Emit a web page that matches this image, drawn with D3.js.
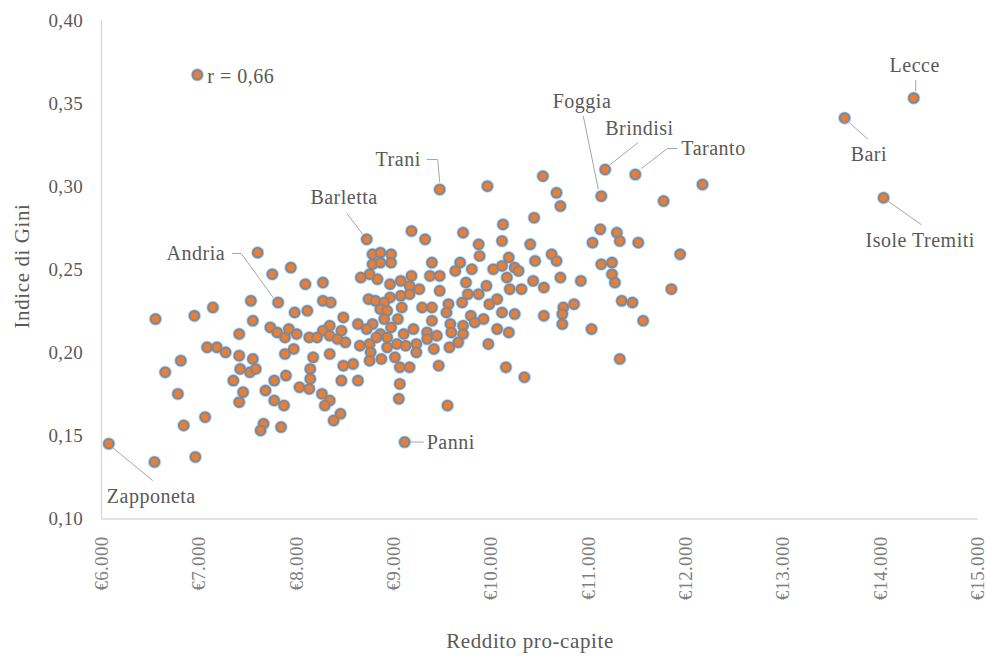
<!DOCTYPE html>
<html>
<head>
<meta charset="utf-8">
<script src="https://cdn.jsdelivr.net/npm/d3@7"></script>
<style>
  html, body { margin: 0; padding: 0; background: #ffffff; }
  svg { display: block; }
</style>
</head>
<body>
<svg id="chart" width="987" height="660"></svg>
<script>
// ---------------- DATA ----------------
// Unlabelled municipalities: income per capita (€) and Gini index
const income = [
  7610,7950,7760,7540,7990,7150,6960,6560,7560,7420,7740,7810,7890,7930,7980,7890,7090,7190,7280,7420,
  7560,6820,6660,7430,7530,7590,7360,7780,7900,7460,7690,6790,7420,7780,7880,7070,6850,7670,7640,7850,
  6550,6970,
  9190,9330,8790,8870,8980,8790,8870,8980,9400,8670,8760,8840,8970,9080,9190,9170,9270,9380,8100,8280,
  8750,8820,8970,8910,9080,9170,8280,8360,8120,8870,8940,9090,9300,9400,8490,9400,8350,8280,8470,8640,
  8790,8910,9050,8980,8870,8730,9110,9210,9350,9450,8010,8140,8220,8350,8430,8510,8660,8760,8830,8940,
  8940,9040,9130,9240,9350,8350,8770,8760,8880,9020,9240,9420,9470,8180,8150,8150,8040,8140,8490,8590,
  8470,8640,9070,9170,9070,9060,8270,8350,8300,8460,8390,
  9970,10540,10680,10720,10450,10130,9720,9880,10120,9890,10410,10630,10680,10460,10190,9690,9640,9810,10030,10120,
  10250,10290,10170,9480,9750,9960,10200,10320,10440,10550,10720,10930,9480,9770,9880,9710,9990,10070,9570,9550,
  10120,10250,9800,9930,9840,9590,9720,9720,9600,9670,9580,10070,10190,9980,10550,10750,10860,10740,10740,10160,
  10350,9560,
  12180,11780,11130,11300,11330,11050,11520,11950,11140,11250,11250,11280,11860,11350,11460,11570,11040,11330
];
const gini = [
  0.260,0.251,0.247,0.231,0.224,0.227,0.222,0.220,0.219,0.211,0.215,0.212,0.209,0.214,0.202,0.199,0.203,0.203,0.200,0.198,
  0.196,0.195,0.188,0.190,0.188,0.190,0.183,0.183,0.186,0.176,0.177,0.175,0.170,0.171,0.168,0.161,0.156,0.157,0.153,0.155,
  0.134,0.137,
  0.273,0.268,0.259,0.260,0.259,0.253,0.254,0.254,0.254,0.245,0.247,0.244,0.241,0.243,0.246,0.240,0.238,0.246,0.241,0.242,
  0.232,0.231,0.233,0.230,0.234,0.235,0.231,0.230,0.225,0.226,0.225,0.227,0.227,0.227,0.221,0.219,0.216,0.213,0.213,0.217,
  0.217,0.220,0.220,0.215,0.211,0.214,0.211,0.214,0.212,0.210,0.211,0.209,0.209,0.210,0.208,0.206,0.204,0.205,0.209,0.209,
  0.203,0.205,0.204,0.205,0.208,0.199,0.200,0.195,0.196,0.197,0.200,0.202,0.192,0.197,0.190,0.184,0.179,0.178,0.192,0.193,
  0.183,0.183,0.191,0.191,0.181,0.172,0.175,0.171,0.168,0.163,0.159,
  0.300,0.306,0.296,0.288,0.281,0.277,0.272,0.265,0.267,0.258,0.265,0.259,0.255,0.255,0.257,0.254,0.249,0.250,0.250,0.252,
  0.251,0.249,0.245,0.246,0.242,0.240,0.238,0.238,0.243,0.239,0.245,0.243,0.237,0.235,0.235,0.230,0.229,0.232,0.229,0.224,
  0.224,0.223,0.222,0.220,0.218,0.217,0.216,0.211,0.212,0.206,0.203,0.214,0.212,0.205,0.222,0.227,0.229,0.223,0.217,0.191,
  0.185,0.168,
  0.301,0.291,0.274,0.272,0.267,0.266,0.266,0.259,0.253,0.254,0.247,0.242,0.238,0.231,0.230,0.219,0.214,0.196
];

// Labelled municipalities
const labelNames  = ["Zapponeta","Andria","Barletta","Trani","Panni","Foggia","Brindisi","Taranto","Bari","Lecce","Isole Tremiti"];
const labelIncome = [6080, 7820, 8730, 9480, 9120, 11140, 11180, 11490, 13640, 14350, 14040];
const labelGini   = [0.145, 0.230, 0.268, 0.298, 0.146, 0.294, 0.310, 0.307, 0.341, 0.353, 0.293];

// Correlation annotation marker
const corrText = "r = 0,66";
const corrIncome = [6990];
const corrGini = [0.367];

// Axis ticks
const xTicks = [6000,7000,8000,9000,10000,11000,12000,13000,14000,15000];
const yTicks = [0.10,0.15,0.20,0.25,0.30,0.35,0.40];
const xTitle = "Reddito pro-capite";
const yTitle = "Indice di Gini";

// ---------------- LAYOUT (callout placement, px offsets from the point) ----------------
const callout = {
  "Zapponeta":     {dx:-2,  dy:52,  anchor:"start", line:[[4,4],[44,37]]},
  "Andria":        {dx:-53, dy:-49, anchor:"end",   line:[[-46,-49],[-37,-49],[-5,-5]]},
  "Barletta":      {dx:11,  dy:-42, anchor:"end",   line:[[-20,-26],[-4,-5]]},
  "Trani":         {dx:-19, dy:-30, anchor:"end",   line:[[-13,-30],[-2,-30],[0,-7]]},
  "Panni":         {dx:22,  dy:0,   anchor:"start", line:[[6,0],[19,0]]},
  "Foggia":        {dx:10,  dy:-95, anchor:"end",   line:[[-18,-80],[-3,-7]]},
  "Brindisi":      {dx:0,   dy:-42, anchor:"start", line:[[33,-27],[5,-5]]},
  "Taranto":       {dx:46,  dy:-27, anchor:"start", line:[[42,-26],[32,-26],[6,-6]]},
  "Bari":          {dx:6,   dy:36,  anchor:"start", line:[[4,4],[23,21]]},
  "Lecce":         {dx:1,   dy:-33, anchor:"middle",line:[[2,-18],[2,-7]]},
  "Isole Tremiti": {dx:-18, dy:42,  anchor:"start", line:[[4,3],[38,27]]}
};

// ---------------- CHART ----------------
const FONT = '"Liberation Serif", "DejaVu Serif", serif';
const TXT = "#595959";
const svg = d3.select("#chart");
const x = d3.scaleLinear().domain([6000, 15000]).range([101, 977]);
const y = d3.scaleLinear().domain([0.10, 0.40]).range([518.5, 20]);

const loc = d3.formatLocale({decimal: ",", thousands: ".", grouping: [3], currency: ["€", ""]});
const fx = loc.format("$,.0f");
const fy = loc.format(".2f");
const axisColor = "#d9d9d9";

// X axis
const gx = svg.append("g").attr("transform", `translate(0,${y(0.10)})`)
  .call(d3.axisBottom(x).tickValues(xTicks).tickFormat(fx).tickSize(0));
gx.select(".domain").attr("stroke", axisColor).attr("stroke-width", 1.3);
gx.selectAll(".tick text")
  .attr("transform", "rotate(-90)")
  .attr("text-anchor", "end")
  .attr("x", -18).attr("y", 0).attr("dy", "0.35em")
  .style("font-family", FONT).style("letter-spacing", "0.3px")
  .style("font-size", "19px").style("fill", "#7f7f7f");

// Y axis
const gy = svg.append("g").attr("transform", `translate(${x(6000)},0)`)
  .call(d3.axisLeft(y).tickValues(yTicks).tickFormat(fy).tickSize(0).tickPadding(18));
gy.select(".domain").attr("stroke", axisColor).attr("stroke-width", 1.3);
gy.selectAll(".tick text")
  .style("font-family", FONT).style("letter-spacing", "0.3px")
  .style("font-size", "19px").style("fill", TXT);

// Titles
svg.append("text").attr("x", 530).attr("y", 648).attr("text-anchor", "middle")
  .style("font-family", FONT).style("fill", TXT).style("letter-spacing", "0.6px")
  .style("font-size", "21px").text(xTitle);
svg.append("text").attr("transform", `translate(22,266) rotate(-90)`).attr("text-anchor", "middle")
  .attr("dy", "0.35em").style("font-family", FONT).style("fill", TXT).style("letter-spacing", "0.6px")
  .style("font-size", "21px").text(yTitle);

// Points
const pts = income.map((v, i) => ({x: v, y: gini[i]}));
labelNames.forEach((n, i) => pts.push({x: labelIncome[i], y: labelGini[i], name: n}));
pts.push({x: corrIncome[0], y: corrGini[0], corr: true});

const gHalo = svg.append("g");
gHalo.selectAll("circle").data(pts).join("circle")
  .attr("cx", d => x(d.x)).attr("cy", d => y(d.y)).attr("r", 6.6).attr("fill", "#bcd6ef");
const gPts = svg.append("g");
gPts.selectAll("circle").data(pts).join("circle")
  .attr("cx", d => x(d.x)).attr("cy", d => y(d.y)).attr("r", 4.7)
  .attr("fill", "#ED7D31").attr("stroke", "#7d8999").attr("stroke-width", 2.1);

// Callouts
const gLab = svg.append("g");
pts.filter(d => d.name).forEach(d => {
  const c = callout[d.name];
  const px = x(d.x), py = y(d.y);
  gLab.append("path")
    .attr("d", d3.line()(c.line.map(p => [px + p[0], py + p[1]])))
    .attr("fill", "none").attr("stroke", "#a6a6a6").attr("stroke-width", 1);
  gLab.append("text").attr("x", px + c.dx).attr("y", py + c.dy).attr("dy", "0.35em")
    .attr("text-anchor", c.anchor)
    .style("font-family", FONT).style("fill", TXT).style("letter-spacing", "0.5px")
    .style("font-size", "20px").text(d.name);
});
// correlation label
gLab.append("text").attr("x", x(corrIncome[0]) + 10).attr("y", y(corrGini[0]) + 1)
  .attr("dy", "0.35em")
  .style("font-family", FONT).style("fill", TXT).style("letter-spacing", "0.5px")
  .style("font-size", "20px").text(corrText);
</script>
</body>
</html>
